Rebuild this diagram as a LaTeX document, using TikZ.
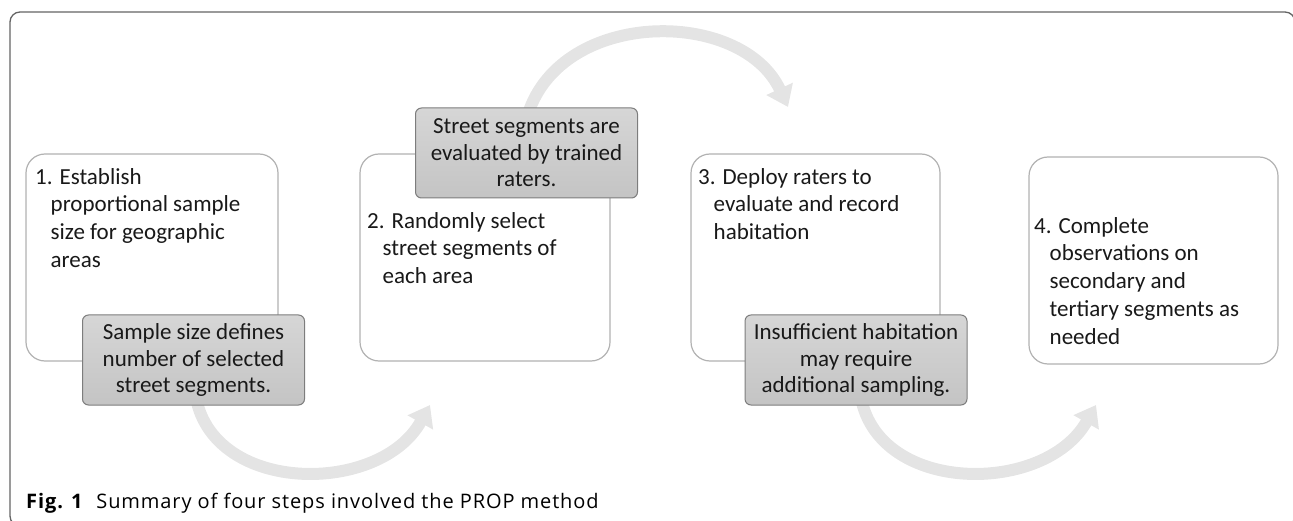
\documentclass[tikz,border=0pt]{standalone}
\usepackage{fontspec}
\setmainfont{Carlito}
\newfontfamily\capfont[LetterSpace=4.5]{Open Sans}
\usetikzlibrary{arrows.meta,shapes.misc}
\definecolor{bandgray}{RGB}{228,228,228}
\definecolor{framegray}{RGB}{100,100,100}
\definecolor{boxline}{RGB}{178,178,178}
\definecolor{noteline}{RGB}{125,125,125}
\definecolor{notetop}{RGB}{214,214,214}
\definecolor{notebot}{RGB}{196,196,196}
\definecolor{ink}{RGB}{25,25,25}
\newcommand{\hi}{\hspace*{15.5pt}}
\tikzset{
  stepbox/.style={draw=boxline, line width=1.2pt, rounded corners=19pt, fill=white},
  notebox/.style={draw=noteline, line width=1pt, rounded corners=6pt,
    top color=notetop, bottom color=notebot, minimum width=222pt, minimum height=90pt,
    align=center, inner sep=0pt, text=ink, font=\fontsize{23}{26.5}\selectfont},
  steptext/.style={anchor=north west, inner sep=0pt, align=left, text=ink,
    font=\fontsize{23}{27.8}\selectfont},
  flow/.style={draw=bandgray, line width=12pt, -{Triangle[width=28pt,length=20pt]}},
}
\begin{document}
\begin{tikzpicture}[x=1pt,y=-1pt]
\useasboundingbox (0,0) rectangle (1293,521);
% frame
\draw[framegray, line width=1.3pt, rounded corners=10pt] (10,12) rectangle (1295,526);
% flow arrows (behind)
\coordinate (a1s) at (196,398);
\coordinate (a1e) at (430,405);
\coordinate (a2s) at (528,114);
\coordinate (a2e) at (788,107);
\coordinate (a3s) at (861,398);
\coordinate (a3e) at (1096,405);
\draw[flow] (a1s) .. controls (215,495) and (380,495) .. (a1e);
\draw[flow] (a2s) .. controls (562,8) and (742,8) .. (a2e);
\draw[flow] (a3s) .. controls (880,495) and (1045,495) .. (a3e);
% step boxes
\draw[stepbox] (26,154) rectangle (278,361);
\draw[stepbox] (360,154) rectangle (610,361);
\draw[stepbox] (691,154) rectangle (940,361);
\draw[stepbox] (1029,157) rectangle (1278,364);
\node[steptext] (t1) at (35,168) {1. Establish\\\hi proportional sample\\\hi size for geographic\\\hi areas};
\node[steptext] (t2) at (367,212) {2. Randomly select\\\hi street segments of\\\hi each area};
\node[steptext] (t3) at (698,168) {3. Deploy raters to\\\hi evaluate and record\\\hi habitation};
\node[steptext] (t4) at (1034,217) {4. Complete\\\hi observations on\\\hi secondary and\\\hi tertiary segments as\\\hi needed};
% notes
\node[notebox] (n1) at (193.5,360) {Sample size defines\\number of selected\\street segments.};
\node[notebox] (n2) at (526.5,153) {Street segments are\\evaluated by trained\\raters.};
\node[notebox] (n3) at (856,360) {Insufficient habitation\\may require\\additional sampling.};
% caption
\node[anchor=base west, inner sep=0pt, font=\capfont\fontsize{20}{23}\selectfont] (cap) at (26,508)
  {\textbf{Fig. 1}\hspace{13pt}Summary of four steps involved the PROP method};
\end{tikzpicture}
\end{document}
